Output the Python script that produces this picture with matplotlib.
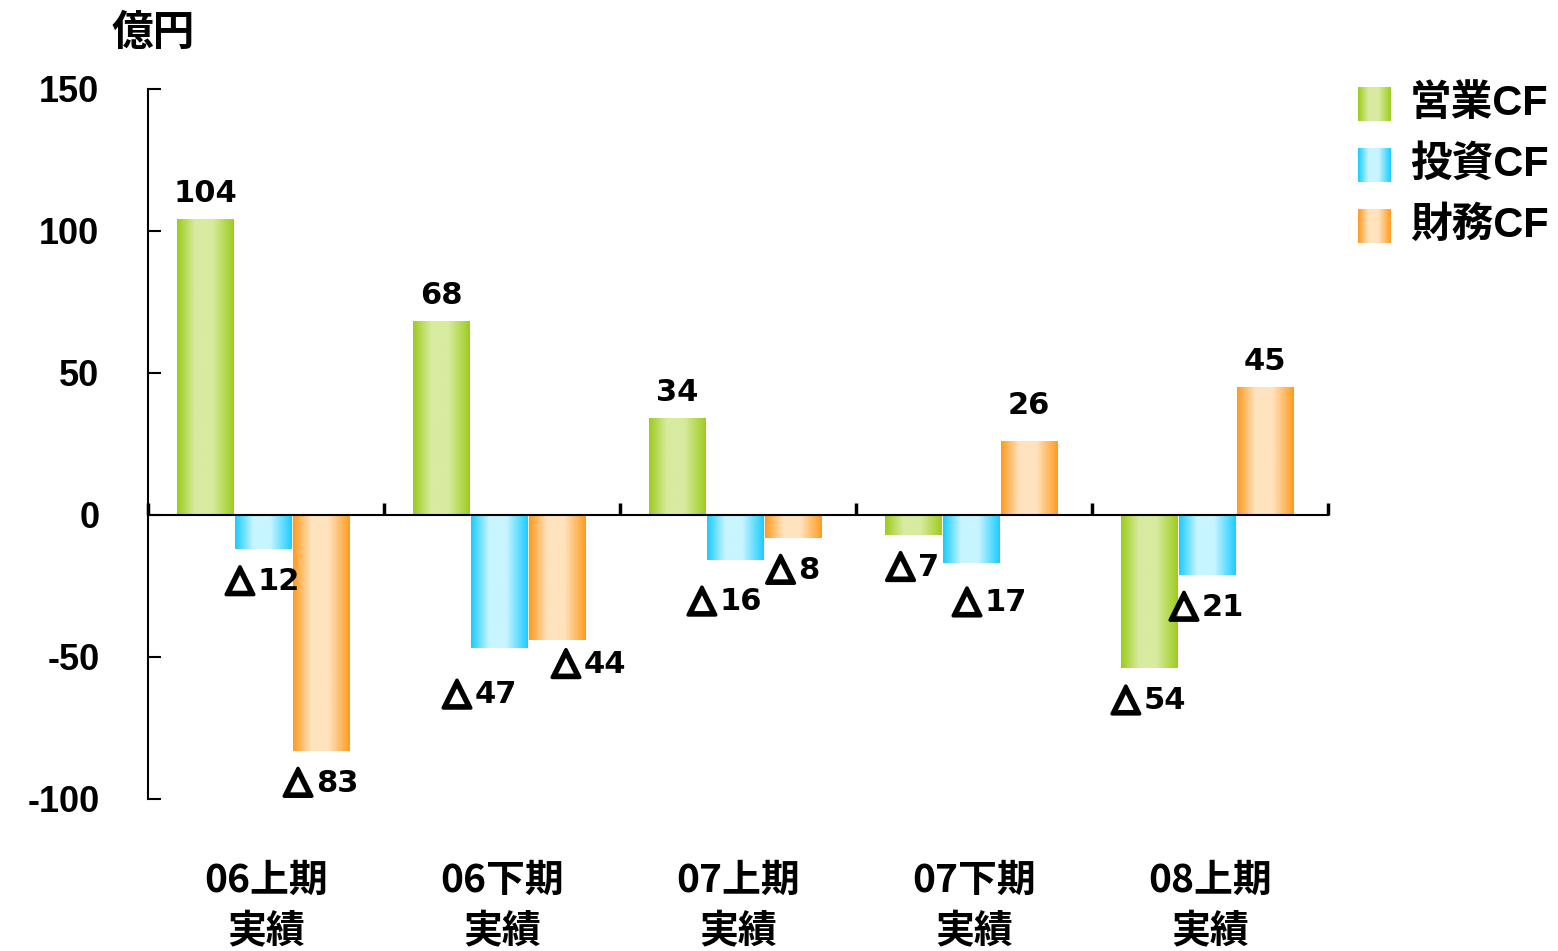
import numpy as np
import matplotlib
matplotlib.use("Agg")
import matplotlib.pyplot as plt
from matplotlib.colors import to_rgb
import matplotlib.transforms as mtransforms
import matplotlib.patheffects as pe

plt.rcParams['font.family'] = ['Noto Sans CJK JP', 'DejaVu Sans']

# ---- data ----
periods = ["06上期\n実績", "06下期\n実績", "07上期\n実績", "07下期\n実績", "08上期\n実績"]
series_names = ["営業CF", "投資CF", "財務CF"]
operating_cf = [104, 68, 34, -7, -54]
investing_cf = [-12, -47, -16, -17, -21]
financing_cf = [-83, -44, -8, 26, 45]
y_ticks = [-100, -50, 0, 50, 100, 150]

# ---- style ----
edge_colors = ["#9CCC1C", "#19CCFF", "#FF9A1E"]
light_colors = ["#D8EBA0", "#C8F5FF", "#FFE3BE"]
latin_family = ['Liberation Sans', 'Noto Sans CJK JP']
value_family = ['DejaVu Sans', 'Noto Sans CJK JP']
NEG_MARK = "△"
MARK_GAP = 4  # pixels between the △ sign and the digits

# extra label nudges in pixels: (series index, period index) -> (dx, extra distance from bar end)
label_nudge = {
    (2, 3): (0, 10),
    (1, 1): (-19, 14),
    (2, 1): (32, -8),
    (1, 2): (-10, 9),
    (1, 3): (19, 7),
}


def gradient_row(dark, light, n=200):
    t = np.linspace(0, 1, n)
    w = np.interp(t, [0, 0.04, 0.32, 0.62, 0.96, 1.0], [0.0, 0.12, 1.0, 1.0, 0.12, 0.0])
    d = np.array(to_rgb(dark))
    l = np.array(to_rgb(light))
    row = d[None, :] * (1 - w[:, None]) + l[None, :] * w[:, None]
    return row[None, :, :]


fig = plt.figure(figsize=(15.58, 9.51), dpi=100)
ax = fig.add_axes([148 / 1558, 1 - 799 / 951, (1328 - 148) / 1558, (799 - 89) / 951])

values = [operating_cf, investing_cf, financing_cf]
x = np.arange(len(periods))
bar_w = 0.246
shift = -0.012
offsets = [-bar_w + shift, shift, bar_w + shift]

neg_labels = []  # (mark text, digits text, dx, baseline offset)
for si, vals in enumerate(values):
    bars = ax.bar(x + offsets[si], vals, width=bar_w - 0.007, facecolor="none",
                  edgecolor="none", zorder=2)
    grad = gradient_row(edge_colors[si], light_colors[si])
    for pi, (rect, v) in enumerate(zip(bars, vals)):
        x0 = rect.get_x()
        x1 = x0 + rect.get_width()
        y0, y1 = sorted([0, v])
        ax.imshow(grad, extent=[x0, x1, y0, y1], aspect="auto",
                  interpolation="bilinear", zorder=2)
        dx, extra = label_nudge.get((si, pi), (0, 0))
        xc = x0 + rect.get_width() / 2
        if v >= 0:
            ax.annotate(f"{v}", xy=(xc, v), xytext=(dx, 26 + extra),
                        textcoords="offset pixels", ha="center", va="center",
                        family=value_family, fontsize=22, fontweight="bold",
                        color="black", zorder=4)
        else:
            base = -(29 + extra) - 12
            mark = ax.annotate(NEG_MARK, xy=(xc, v), xytext=(dx, base),
                               textcoords="offset pixels", ha="left", va="baseline",
                               family=['DejaVu Sans'], fontsize=26, color="black",
                               zorder=4,
                               path_effects=[pe.withStroke(linewidth=2.6, foreground="black")])
            digits = ax.annotate(f"{abs(v)}", xy=(xc, v), xytext=(dx, base),
                                 textcoords="offset pixels", ha="left", va="baseline",
                                 family=value_family, fontsize=22, fontweight="bold",
                                 color="black", zorder=4)
            neg_labels.append((mark, digits, dx, base))

ax.set_xlim(-0.5, len(periods) - 0.5)
ax.set_ylim(-100, 150)

# axes styling
for side in ["top", "right"]:
    ax.spines[side].set_visible(False)
ax.spines["left"].set_linewidth(1.5)
ax.spines["bottom"].set_position(("data", 0))
ax.spines["bottom"].set_linewidth(1.5)
ax.spines["bottom"].set_zorder(3)

ax.set_yticks(y_ticks)
ax.set_yticklabels([str(t) for t in y_ticks])
ax.tick_params(axis="y", direction="in", length=9.5, width=1.5, pad=35,
               labelsize=26)
for lab in ax.get_yticklabels():
    lab.set_fontweight("bold")
    lab.set_family(latin_family)

ax.set_xticks(np.arange(len(periods) + 1) - 0.5)
ax.set_xticklabels([])
ax.tick_params(axis="x", direction="in", length=9, width=2.5)

# category labels below the plot
trans = mtransforms.blended_transform_factory(ax.transData, fig.transFigure)
for xi, lab in zip(x, periods):
    top, bottom = lab.split("\n")
    ax.text(xi, 1 - 880 / 951, top, transform=trans, ha="center", va="center",
            fontsize=28, fontweight="bold")
    ax.text(xi, 1 - 932 / 951, bottom, transform=trans, ha="center", va="center",
            fontsize=28, fontweight="bold")

fig.text(153 / 1558, 1 - 33 / 951, "億円", ha="center", va="center",
         fontsize=30, fontweight="bold")

# legend with gradient swatches
for si, name in enumerate(series_names):
    yc = 104 + si * 61
    sw = fig.add_axes([1358 / 1558, 1 - (yc + 17) / 951, 33 / 1558, 34 / 951])
    sw.imshow(gradient_row(edge_colors[si], light_colors[si]), aspect="auto",
              interpolation="bilinear")
    sw.axis("off")
    fig.text(1410 / 1558, 1 - yc / 951, name, ha="left", va="center",
             family=latin_family, fontsize=30, fontweight="bold")

# centre each "△nn" label: measure the two parts and place them side by side
renderer = fig.canvas.get_renderer()
for mark, digits, dx, base in neg_labels:
    wm = mark.get_window_extent(renderer).width
    wd = digits.get_window_extent(renderer).width
    total = wm + MARK_GAP + wd
    mark.xyann = (dx - total / 2, base)
    digits.xyann = (dx - total / 2 + wm + MARK_GAP, base)

fig.savefig("out.png", dpi=100, facecolor="white")
